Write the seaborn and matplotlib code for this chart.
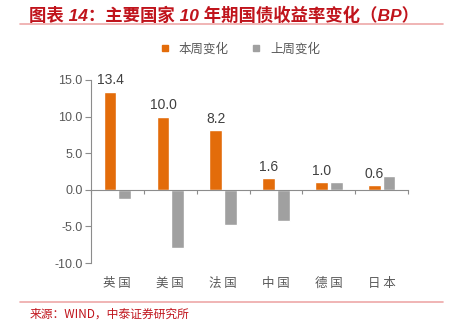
import matplotlib
matplotlib.use("Agg")
import matplotlib.pyplot as plt
import seaborn as sns
import pandas as pd
from matplotlib.lines import Line2D

categories = ["英国", "美国", "法国", "中国", "德国", "日本"]
this_week = [13.4, 10.0, 8.2, 1.6, 1.0, 0.6]
last_week = [-1.2, -8.0, -4.8, -4.3, 1.0, 1.9]
series_names = ["本周变化", "上周变化"]
yticks = [-10.0, -5.0, 0.0, 5.0, 10.0, 15.0]

sns.set_theme(style="white")
plt.rcParams['font.family'] = ['Liberation Sans', 'Noto Sans CJK SC', 'DejaVu Sans']
plt.rcParams['axes.unicode_minus'] = False

df = pd.DataFrame({
    "cat": categories * 2,
    "val": this_week + last_week,
    "series": [series_names[0]] * len(categories) + [series_names[1]] * len(categories),
})

orange = "#E36C0A"
gray = "#A0A0A0"
axis_gray = "#8C8C8C"
text_gray = "#595959"
red = "#C0141C"

fig = plt.figure(figsize=(4.5, 3.33), dpi=100)
ax = fig.add_axes([0.202, 0.21, 0.705, 0.55])

sns.barplot(data=df, x="cat", y="val", hue="series", palette=[orange, gray],
            width=0.55, gap=0.12, ax=ax, legend=False, saturation=1)

ax.set_xlim(-0.5, 5.5)
ax.set_ylim(-10, 15)
ax.set_yticks(yticks)
ax.set_yticklabels([f"{v:.1f}" for v in yticks], color=text_gray, fontsize=9)
ax.set_xlabel("")
ax.set_ylabel("")

for s in ["top", "right"]:
    ax.spines[s].set_visible(False)
ax.spines["left"].set_color(axis_gray)
ax.spines["left"].set_linewidth(0.8)
ax.spines["bottom"].set_position(("data", 0))
ax.spines["bottom"].set_color(axis_gray)
ax.spines["bottom"].set_linewidth(0.8)
ax.set_xticks([i + 0.5 for i in range(-1, len(categories))])
ax.set_xticklabels([])
ax.tick_params(axis="x", direction="out", length=3, color=axis_gray, width=0.8, bottom=True)
ax.tick_params(axis="y", direction="out", length=4, color=axis_gray, width=0.8, left=True, pad=2)

sec = ax.secondary_xaxis("bottom")
sec.set_xticks(range(len(categories)))
sec.set_xticklabels([" ".join(c) for c in categories], fontsize=9, color=text_gray,
                    family=['Noto Sans CJK SC'])
sec.tick_params(length=0, pad=10)
for s in sec.spines.values():
    s.set_visible(False)

# value labels on orange bars
cont = ax.containers[0]
ax.bar_label(cont, labels=[f"{v:.1f}" for v in this_week], padding=3,
             fontsize=10, color="#404040")

# legend
handles = [Line2D([], [], marker="s", linestyle="", markersize=5, color=orange),
           Line2D([], [], marker="s", linestyle="", markersize=5, color=gray)]
fig.legend(handles, series_names, loc="center", bbox_to_anchor=(0.525, 0.853), ncol=2,
           frameon=False, fontsize=9, handletextpad=0.1, columnspacing=1.2,
           labelcolor=text_gray, prop={'family': ['Noto Sans CJK SC'], 'size': 9})

# title and decoration
fig.text(0.065, 0.955, "图表 14：主要国家 10 年期国债收益率变化（BP）", color=red,
         fontsize=12.5, fontweight="bold", style="italic", va="center", ha="left",
         family=['Liberation Sans', 'Noto Sans CJK SC'])
fig.add_artist(Line2D([0.045, 0.985], [0.928, 0.928], color="#EDA8A8", linewidth=1.2))
fig.add_artist(Line2D([0.045, 0.985], [0.094, 0.094], color="#EDA8A8", linewidth=1.2))
fig.text(0.065, 0.057, "来源：WIND，中泰证券研究所", color=red, fontsize=8.5,
         va="center", ha="left", family=['Noto Sans CJK SC'])

fig.savefig("out.png", dpi=100)
